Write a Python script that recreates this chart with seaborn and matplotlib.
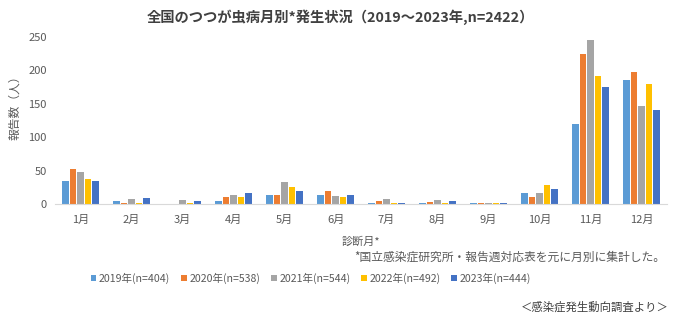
import matplotlib
matplotlib.use("Agg")
import matplotlib.pyplot as plt
import seaborn as sns
import pandas as pd
from matplotlib.patches import Patch

months = ["1月", "2月", "3月", "4月", "5月", "6月", "7月", "8月", "9月", "10月", "11月", "12月"]
series_names = ["2019年(n=404)", "2020年(n=538)", "2021年(n=544)", "2022年(n=492)", "2023年(n=444)"]
v2019 = [34, 4, 0, 5, 13, 14, 1, 1, 1, 16, 120, 186]
v2020 = [53, 1, 0, 10, 13, 19, 4, 3, 1, 10, 225, 197]
v2021 = [48, 7, 6, 14, 33, 12, 7, 6, 1, 16, 245, 147]
v2022 = [37, 1, 1, 10, 26, 10, 1, 1, 2, 28, 192, 180]
v2023 = [34, 9, 4, 16, 20, 13, 1, 4, 2, 22, 175, 140]
colors = ["#5B9BD5", "#ED7D31", "#A5A5A5", "#FFC000", "#4472C4"]

rows = []
for name, vals in zip(series_names, [v2019, v2020, v2021, v2022, v2023]):
    for m, v in zip(months, vals):
        rows.append({"month": m, "series": name, "value": v})
df = pd.DataFrame(rows)

sns.set_theme(style="white")
plt.rcParams["font.family"] = ["Noto Sans CJK JP", "DejaVu Sans"]

fig = plt.figure(figsize=(6.8, 3.21), dpi=100)
ax = fig.add_axes([0.081, 0.3645, 0.9, 0.5205])
sns.barplot(data=df, x="month", y="value", hue="series", order=months,
            hue_order=series_names, palette=colors, ax=ax, width=0.74,
            saturation=1, legend=False, edgecolor="none", linewidth=0, gap=0.12)

ax.set_ylim(0, 250)
ax.set_yticks([0, 50, 100, 150, 200, 250])
ax.set_xlim(-0.5, 11.5)
for s in ["top", "right", "left"]:
    ax.spines[s].set_visible(False)
ax.spines["bottom"].set_color("#D9D9D9")
ax.spines["bottom"].set_linewidth(0.8)
ax.tick_params(axis="both", length=0, labelsize=8, colors="#595959", pad=6)
ax.tick_params(axis="x", pad=8)
ax.set_xlabel("診断月*", fontsize=8, color="#595959", labelpad=8)
ax.set_ylabel("")

fig.text(0.021, 0.673, "報告数（人）", rotation=90, ha="center", va="center",
         fontsize=8.5, color="#595959")
fig.text(0.5, 0.947, "全国のつつが虫病月別*発生状況（2019～2023年,n=2422）",
         ha="center", va="center", fontsize=10.3, fontweight="bold", color="#404040")
fig.text(0.979, 0.2, "*国立感染症研究所・報告週対応表を元に月別に集計した。",
         ha="right", va="center", fontsize=8.5, color="#595959")
fig.text(0.983, 0.045, "＜感染症発生動向調査より＞",
         ha="right", va="center", fontsize=8.2, color="#404040")

handles = [Patch(facecolor=c, edgecolor="none") for c in colors]
fig.legend(handles, series_names, loc="center", bbox_to_anchor=(0.457, 0.134),
           ncol=5, frameon=False, fontsize=7.6, handlelength=0.55, handleheight=0.55,
           handletextpad=0.25, columnspacing=1.0, labelcolor="#595959")

fig.savefig("out.png", dpi=100, facecolor="white")
